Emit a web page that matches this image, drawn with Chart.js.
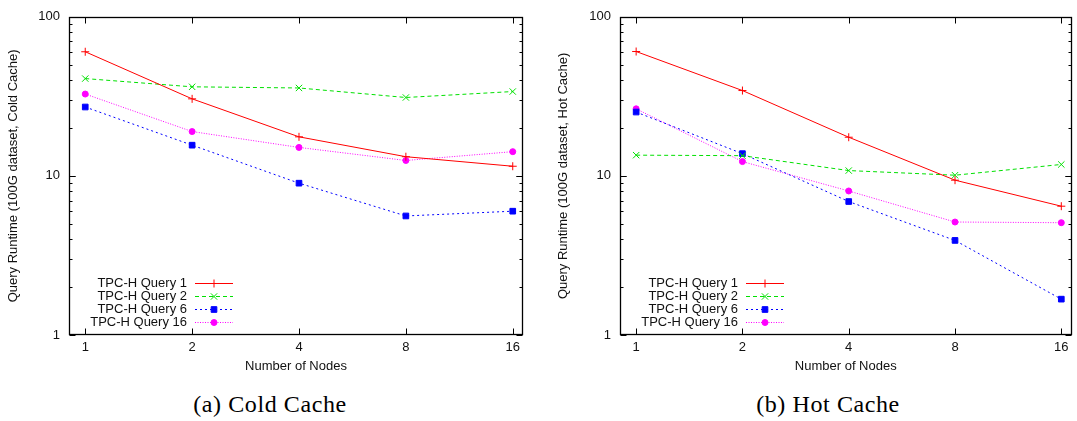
<!DOCTYPE html>
<html>
<head>
<meta charset="utf-8">
<script src="https://cdn.jsdelivr.net/npm/chart.js@4/dist/chart.umd.min.js"></script>
<style>
  html, body { margin: 0; padding: 0; background: #fff; }
  #wrap { position: relative; width: 1077px; height: 421px; overflow: hidden; background: #fff; }
  .box { position: absolute; top: 0; }
  .cap { position: absolute; font-family: "Liberation Serif", serif; font-size: 24px; letter-spacing: 0.6px; color: #000; white-space: nowrap; transform: translateX(-50%); }
</style>
</head>
<body>
<div id="wrap">
  <div class="box" style="left:0px;width:540px;height:380px;"><canvas id="c1" width="540" height="380"></canvas></div>
  <div class="box" style="left:550px;width:527px;height:380px;"><canvas id="c2" width="527" height="380"></canvas></div>
  <div class="cap" id="cap1" style="left:270px;top:391px;">(a) Cold Cache</div>
  <div class="cap" id="cap2" style="left:828px;top:391px;">(b) Hot Cache</div>
</div>
<script>
// ---- data ----
const nodes = [1, 2, 4, 8, 16];
const xTickLabels = ['1', '2', '4', '8', '16'];
const yTickValues = [1, 10, 100];
const yTickLabels = ['1', '10', '100'];
const seriesNames = ['TPC-H Query 1', 'TPC-H Query 2', 'TPC-H Query 6', 'TPC-H Query 16'];

const coldQ1  = [60.3, 30.5, 17.6, 13.2, 11.5];
const coldQ2  = [40.9, 36.3, 35.7, 31.1, 33.9];
const coldQ6  = [27.1, 15.6, 9.0, 5.6, 6.0];
const coldQ16 = [32.7, 19.0, 15.1, 12.5, 14.2];

const hotQ1  = [60.5, 34.4, 17.5, 9.4, 6.45];
const hotQ2  = [13.5, 13.4, 10.8, 10.1, 11.8];
const hotQ6  = [25.2, 13.8, 6.9, 3.93, 1.68];
const hotQ16 = [26.4, 12.3, 8.04, 5.13, 5.08];

const xTitle = 'Number of Nodes';
const yTitleCold = 'Query Runtime (100G dataset, Cold Cache)';
const yTitleHot = 'Query Runtime (100G dataset, Hot Cache)';

// ---- styles ----
const styles = [
  { color: '#ff0000', dash: [],     point: 'cross',    radius: 4 },
  { color: '#00e000', dash: [4, 3], point: 'crossRot', radius: 4.5 },
  { color: '#0000ff', dash: [2, 3], point: 'rect',     radius: 4 },
  { color: '#ff00ff', dash: [1, 1.5], point: 'circle', radius: 3 }
];

const FONT = 'Liberation Sans, Arial, Helvetica, sans-serif';
const FSIZE = 13;

function buildDatasets(seriesList) {
  return seriesList.map((vals, i) => ({
    label: seriesNames[i],
    data: nodes.map((n, k) => ({ x: n, y: vals[k] })),
    borderColor: styles[i].color,
    backgroundColor: styles[i].color,
    borderWidth: 1,
    borderDash: styles[i].dash,
    pointStyle: styles[i].point,
    pointRadius: styles[i].radius,
    pointHoverRadius: styles[i].radius,
    pointBorderColor: styles[i].color,
    pointBackgroundColor: styles[i].color,
    pointBorderWidth: 1,
    tension: 0,
    fill: false
  }));
}

// gnuplot-like frame, inward ticks and inside legend
const framePlugin = {
  id: 'frame',
  afterDatasetsDraw(chart) {
    const ctx = chart.ctx;
    const a = chart.chartArea;
    const xs = chart.scales.x, ys = chart.scales.y;
    const L = Math.round(a.left) + 0.5, R = Math.round(a.right) - 0.5;
    const T = Math.round(a.top) + 0.5, B = Math.round(a.bottom) - 0.5;
    ctx.save();
    ctx.setLineDash([]);
    ctx.strokeStyle = '#000';
    ctx.lineWidth = 1;
    ctx.beginPath();
    // y ticks
    for (let d = 1; d < 100; d *= 10) {
      for (let m = 1; m <= 10; m++) {
        const v = d * m;
        if (v > 100) continue;
        const len = (m === 1 || m === 10) ? 6 : 3;
        const y = Math.round(ys.getPixelForValue(v)) + 0.5;
        ctx.moveTo(L, y); ctx.lineTo(L + len, y);
        ctx.moveTo(R, y); ctx.lineTo(R - len, y);
      }
    }
    // x ticks
    nodes.forEach(n => {
      const x = Math.round(xs.getPixelForValue(n)) + 0.5;
      ctx.moveTo(x, B); ctx.lineTo(x, B - 6);
      ctx.moveTo(x, T); ctx.lineTo(x, T + 6);
    });
    ctx.stroke();
    ctx.lineWidth = 1.3;
    ctx.strokeRect(L, T, R - L, B - T);

    // legend
    ctx.font = FSIZE + 'px ' + FONT;
    ctx.textAlign = 'right';
    ctx.textBaseline = 'middle';
    chart.data.datasets.forEach((ds, i) => {
      const y = Math.round(a.bottom - 52 + 13 * i) + 0.5;
      ctx.fillStyle = '#111';
      ctx.fillText(ds.label, a.left + 118, y);
      ctx.strokeStyle = ds.borderColor;
      ctx.lineWidth = 1;
      ctx.setLineDash(ds.borderDash);
      ctx.beginPath();
      ctx.moveTo(a.left + 126, y);
      ctx.lineTo(a.left + 164, y);
      ctx.stroke();
      ctx.setLineDash([]);
      ctx.fillStyle = ds.pointBackgroundColor;
      ctx.strokeStyle = ds.pointBorderColor;
      ctx.lineWidth = 1;
      Chart.helpers.drawPoint(ctx, { pointStyle: ds.pointStyle, radius: ds.pointRadius, rotation: 0, borderWidth: 1 }, a.left + 145, y);
    });
    ctx.restore();
  }
};

function makeChart(id, seriesList, yTitle, yWidth, padRight) {
  return new Chart(document.getElementById(id), {
    type: 'line',
    data: { datasets: buildDatasets(seriesList) },
    plugins: [framePlugin],
    options: {
      responsive: false,
      animation: false,
      devicePixelRatio: 1,
      layout: { padding: { left: 0, top: 14, right: padRight, bottom: 0 } },
      plugins: { legend: { display: false }, tooltip: { enabled: false } },
      events: [],
      scales: {
        x: {
          type: 'logarithmic',
          min: 0.9,
          max: 17.1,
          afterBuildTicks(scale) { scale.ticks = nodes.map(v => ({ value: v })); },
          afterFit(scale) { scale.height = 45; },
          ticks: {
            autoSkip: false,
            maxRotation: 0,
            padding: 5,
            color: '#111',
            font: { family: FONT, size: FSIZE },
            callback(value) { const k = nodes.indexOf(value); return k >= 0 ? xTickLabels[k] : ''; }
          },
          grid: { display: false, drawTicks: false, tickLength: 0 },
          border: { display: false },
          title: { display: true, text: xTitle, color: '#111', font: { family: FONT, size: FSIZE }, padding: { top: 0, bottom: 6 } }
        },
        y: {
          type: 'logarithmic',
          min: 1,
          max: 100,
          afterBuildTicks(scale) { scale.ticks = yTickValues.map(v => ({ value: v })); },
          afterFit(scale) { scale.width = yWidth; },
          ticks: {
            autoSkip: false,
            padding: 9,
            color: '#111',
            font: { family: FONT, size: FSIZE },
            callback(value) { const k = yTickValues.indexOf(value); return k >= 0 ? yTickLabels[k] : ''; }
          },
          grid: { display: false, drawTicks: false, tickLength: 0 },
          border: { display: false },
          title: { display: true, text: yTitle, color: '#111', font: { family: FONT, size: FSIZE }, padding: { top: 6, bottom: 0 } }
        }
      }
    }
  });
}

makeChart('c1', [coldQ1, coldQ2, coldQ6, coldQ16], yTitleCold, 69, 17);
makeChart('c2', [hotQ1, hotQ2, hotQ6, hotQ16], yTitleHot, 70, 3);
</script>
</body>
</html>
